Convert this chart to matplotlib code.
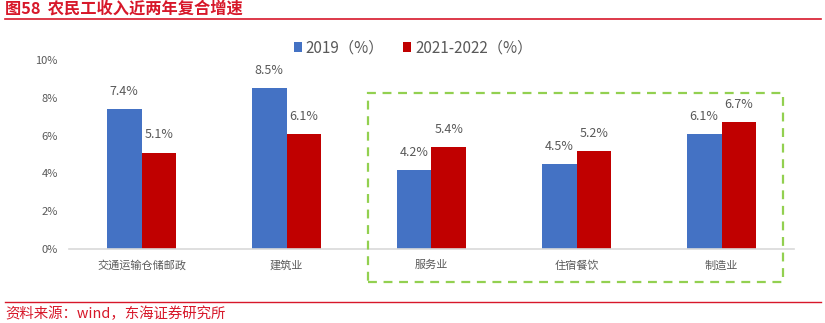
import matplotlib
matplotlib.use("Agg")
import matplotlib.pyplot as plt
import numpy as np
from matplotlib.patches import Rectangle
from matplotlib.lines import Line2D

plt.rcParams['font.family'] = ['Noto Sans CJK SC', 'DejaVu Sans']

categories = ["交通运输仓储邮政", "建筑业", "服务业", "住宿餐饮", "制造业"]
series_names = ["2019（%）", "2021-2022（%）"]
growth_2019 = [7.4, 8.5, 4.2, 4.5, 6.1]
growth_2021_2022 = [5.1, 6.1, 5.4, 5.2, 6.7]
y_ticks = [0, 2, 4, 6, 8, 10]

title = "图58  农民工收入近两年复合增速"
source = "资料来源：wind，东海证券研究所"

BLUE = "#4472C4"
RED = "#C00000"
GRAY = "#595959"
BRAND_RED = "#D7182A"
W, H = 825, 323

fig = plt.figure(figsize=(W / 100, H / 100), dpi=100)
ax = fig.add_axes([69 / W, 1 - 249 / H, (794 - 69) / W, (249 - 60) / H])

x = np.arange(len(categories))
bw = 0.241
b1 = ax.bar(x - bw / 2, growth_2019, bw, color=BLUE, label=series_names[0])
b2 = ax.bar(x + bw / 2, growth_2021_2022, bw, color=RED, label=series_names[1])

for bars, vals in ((b1, growth_2019), (b2, growth_2021_2022)):
    for rect, v in zip(bars, vals):
        ax.annotate(f"{v:.1f}%", (rect.get_x() + rect.get_width() / 2, v),
                    xytext=(0, 8), textcoords="offset points",
                    ha="center", va="bottom", fontsize=9, color=GRAY)

ax.set_xlim(-0.5, len(categories) - 0.5)
ax.set_ylim(0, 10)
ax.set_yticks(y_ticks)
ax.set_yticklabels([f"{t}%" for t in y_ticks], fontsize=8, color=GRAY)
ax.set_xticks(x)
ax.set_xticklabels(categories, fontsize=8, color=GRAY)
ax.tick_params(axis="both", length=0)
ax.tick_params(axis="y", pad=8)
ax.tick_params(axis="x", pad=8)
for s in ("top", "right", "left"):
    ax.spines[s].set_visible(False)
ax.spines["bottom"].set_color("#D9D9D9")
ax.spines["bottom"].set_linewidth(1.2)

leg = fig.legend(handles=[b1, b2], labels=series_names, loc="center",
                 bbox_to_anchor=(413 / W, 1 - 48 / H), ncol=2, frameon=False,
                 fontsize=11, handlelength=0.55, handleheight=0.55,
                 handletextpad=0.25, columnspacing=1.2)
for t in leg.get_texts():
    t.set_color(GRAY)

# highlight box around the service-type industries
fig.patches.append(Rectangle((368 / W, 1 - 282 / H), (783 - 368) / W, (282 - 93) / H,
                             transform=fig.transFigure, fill=False,
                             edgecolor="#92D050", linewidth=1.6,
                             linestyle=(0, (4, 3))))

fig.text(5 / W, 1 - 9 / H, title, fontsize=11.7, fontweight="bold",
         color=BRAND_RED, ha="left", va="center")
fig.lines.append(Line2D([5 / W, 821 / W], [1 - 19 / H, 1 - 19 / H],
                        transform=fig.transFigure, color=BRAND_RED, linewidth=1.2))
fig.lines.append(Line2D([5 / W, 821 / W], [1 - 302 / H, 1 - 302 / H],
                        transform=fig.transFigure, color=BRAND_RED, linewidth=1.0))
fig.text(5 / W, 1 - 314 / H, source, fontsize=10.4, color=BRAND_RED,
         ha="left", va="center")

fig.savefig("out.png", dpi=100)
